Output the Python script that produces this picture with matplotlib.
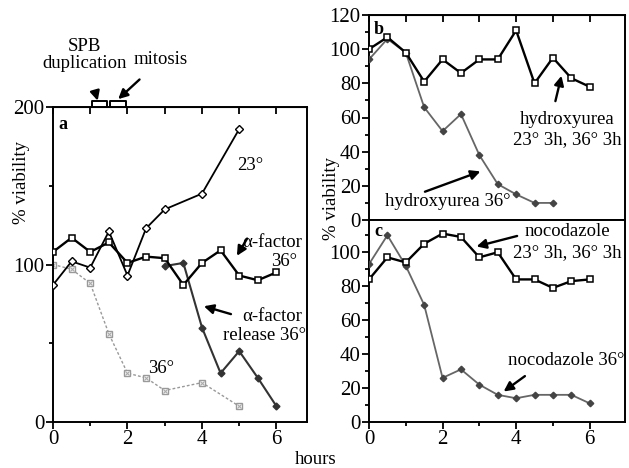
import matplotlib
matplotlib.use("Agg")
import matplotlib.pyplot as plt
from matplotlib.ticker import MultipleLocator

plt.rcParams['font.family'] = ['Liberation Serif', 'DejaVu Serif']
plt.rcParams['font.size'] = 13.5

# panel a
t_23 = [0, 0.5, 1, 1.5, 2, 2.5, 3, 4, 5]
v_23 = [87, 102, 98, 121, 93, 123, 135, 145, 186]
t_af = [0, 0.5, 1, 1.5, 2, 2.5, 3, 3.5, 4, 4.5, 5, 5.5, 6]
v_af = [108, 117, 108, 114, 101, 105, 104, 87, 101, 109, 93, 90, 95]
t_rel = [3, 3.5, 4, 4.5, 5, 5.5, 6]
v_rel = [99, 101, 60, 31, 45, 28, 10]
t_36 = [0, 0.5, 1, 1.5, 2, 2.5, 3, 4, 5]
v_36 = [100, 97, 88, 56, 31, 28, 20, 25, 10]

# panel b
t_hu = [0, 0.5, 1, 1.5, 2, 2.5, 3, 3.5, 4, 4.5, 5, 5.5, 6]
v_hu = [100, 107, 98, 81, 94, 86, 94, 94, 111, 80, 95, 83, 78]
t_hu36 = [0, 0.5, 1, 1.5, 2, 2.5, 3, 3.5, 4, 4.5, 5]
v_hu36 = [94, 106, 98, 66, 52, 62, 38, 21, 15, 10, 10]

# panel c
t_noc = [0, 0.5, 1, 1.5, 2, 2.5, 3, 3.5, 4, 4.5, 5, 5.5, 6]
v_noc = [84, 97, 94, 105, 111, 109, 97, 100, 84, 84, 79, 83, 84]
t_noc36 = [0, 0.5, 1, 1.5, 2, 2.5, 3, 3.5, 4, 4.5, 5, 5.5, 6]
v_noc36 = [93, 110, 92, 69, 26, 31, 22, 16, 14, 16, 16, 16, 11]

W, H = 629, 468
fig = plt.figure(figsize=(W / 100, H / 100), dpi=100)


def box(l, t, r, b):
    return [l / W, 1 - b / H, (r - l) / W, (b - t) / H]


ax_a = fig.add_axes(box(53, 107, 307, 422))
ax_b = fig.add_axes(box(369, 15, 625, 220))
ax_c = fig.add_axes(box(369, 220, 625, 422))

arrow = dict(arrowstyle='-|>', color='black', lw=1.7, mutation_scale=14)
fs = 13.5


def style(ax, xmax, ymax, ymaj, ymin, xlabels=True):
    ax.set_xlim(0, xmax)
    ax.set_ylim(0, ymax)
    ax.xaxis.set_major_locator(MultipleLocator(2))
    ax.xaxis.set_minor_locator(MultipleLocator(1))
    ax.yaxis.set_major_locator(MultipleLocator(ymaj))
    ax.yaxis.set_minor_locator(MultipleLocator(ymin))
    ax.tick_params(which='major', direction='out', length=5, width=1.3, labelsize=15, pad=1)
    ax.tick_params(which='minor', direction='out', length=3, width=1.3)
    for s in ax.spines.values():
        s.set_linewidth(1.4)
    if not xlabels:
        ax.tick_params(axis='x', which='both', bottom=False, labelbottom=False)


def top_ticks(ax):
    sec = ax.secondary_xaxis('top')
    sec.xaxis.set_major_locator(MultipleLocator(1))
    sec.tick_params(direction='in', length=5, width=1.3, labeltop=False)


style(ax_a, 6.82, 200, 100, 50)
top_ticks(ax_a)

ax_a.plot(t_36, v_36, color='#999999', ls=(0, (2, 1.5)), lw=1, marker='s', ms=4.5,
          mfc='white', mec='#999999', mew=1, zorder=2)
ax_a.plot(t_36, v_36, ls='none', marker='x', ms=3, mec='#aaaaaa', mew=0.8, zorder=2)
ax_a.plot(t_23, v_23, color='black', lw=1.3, marker='D', ms=4, mfc='white', mec='black', mew=1, zorder=3)
ax_a.plot(t_af, v_af, color='black', lw=1.7, marker='s', ms=4.5, mfc='white', mec='black', mew=1.1, zorder=4)
ax_a.plot(t_rel, v_rel, color='#333333', lw=1.5, marker='D', ms=3.5, mfc='#333333', mec='#333333', zorder=3)

ax_a.text(0.02, 0.97, 'a', transform=ax_a.transAxes, ha='left', va='top', fontweight='bold', fontsize=13)
ax_a.text(4.95, 163, '23°', ha='left', va='center', fontsize=fs)
ax_a.text(6.7, 114, 'α-factor', ha='right', va='center', fontsize=fs)
ax_a.text(6.55, 102, '36°', ha='right', va='center', fontsize=fs)
ax_a.annotate('', xy=(4.9, 104), xytext=(5.25, 118), arrowprops=arrow)
ax_a.text(6.7, 67, 'α-factor', ha='right', va='center', fontsize=fs)
ax_a.text(6.8, 55, 'release 36°', ha='right', va='center', fontsize=fs)
ax_a.annotate('', xy=(3.98, 74), xytext=(4.85, 68), arrowprops=arrow)
ax_a.text(2.9, 34, '36°', ha='center', va='center', fontsize=fs)

# cell cycle brackets above panel a
for x0, x1 in [(1.05, 1.45), (1.53, 1.96)]:
    ax_a.plot([x0, x0, x1, x1], [200, 203.5, 203.5, 200], color='black', lw=1.4,
              clip_on=False)
ax_a.annotate('SPB\nduplication', xy=(1.2, 204), xytext=(0.85, 233), ha='center', va='center',
              fontsize=fs, linespacing=0.95, annotation_clip=False,
              arrowprops=dict(arrow, shrinkA=15, shrinkB=0))
ax_a.annotate('mitosis', xy=(1.75, 205), xytext=(2.9, 230), ha='center', va='center',
              fontsize=fs, annotation_clip=False,
              arrowprops=dict(arrow, shrinkA=9, shrinkB=0))

style(ax_b, 6.96, 120, 20, 10, xlabels=False)
top_ticks(ax_b)
ax_b.plot(t_hu36, v_hu36, color='#666666', lw=1.3, marker='D', ms=3.3, mfc='#444444', mec='#444444', zorder=3)
ax_b.plot(t_hu, v_hu, color='black', lw=1.7, marker='s', ms=4.5, mfc='white', mec='black', mew=1.1, zorder=4)
ax_b.text(0.02, 0.97, 'b', transform=ax_b.transAxes, ha='left', va='top', fontweight='bold', fontsize=13)
ax_b.text(5.38, 59, 'hydroxyurea', ha='center', va='center', fontsize=fs)
ax_b.text(5.38, 47, '23° 3h, 36° 3h', ha='center', va='center', fontsize=fs)
ax_b.annotate('', xy=(5.25, 86), xytext=(5.05, 68), arrowprops=arrow)
ax_b.text(2.15, 11, 'hydroxyurea 36°', ha='center', va='center', fontsize=fs)
ax_b.annotate('', xy=(3.1, 29), xytext=(1.45, 16), arrowprops=arrow)

style(ax_c, 6.96, 119, 20, 10)
ax_c.set_yticks([0, 20, 40, 60, 80, 100])
ax_c.plot(t_noc36, v_noc36, color='#666666', lw=1.3, marker='D', ms=3.3, mfc='#444444', mec='#444444', zorder=3)
ax_c.plot(t_noc, v_noc, color='black', lw=1.7, marker='s', ms=4.5, mfc='white', mec='black', mew=1.1, zorder=4)
ax_c.text(0.02, 0.985, 'c', transform=ax_c.transAxes, ha='left', va='top', fontweight='bold', fontsize=13)
ax_c.text(5.38, 112, 'nocodazole', ha='center', va='center', fontsize=fs)
ax_c.text(5.38, 100, '23° 3h, 36° 3h', ha='center', va='center', fontsize=fs)
ax_c.annotate('', xy=(2.85, 103), xytext=(4.1, 110), arrowprops=arrow)
ax_c.text(5.35, 36, 'nocodazole 36°', ha='center', va='center', fontsize=fs)
ax_c.annotate('', xy=(3.6, 17), xytext=(4.3, 28), arrowprops=arrow)

fig.text(21 / W, 1 - 183 / H, '% viability', rotation=90, ha='center', va='center', fontsize=fs)
fig.text(331 / W, 1 - 198 / H, '% viability', rotation=90, ha='center', va='center', fontsize=fs)
fig.text(316 / W, 1 - 459 / H, 'hours', ha='center', va='center', fontsize=fs)

fig.savefig('out.png', dpi=100)
